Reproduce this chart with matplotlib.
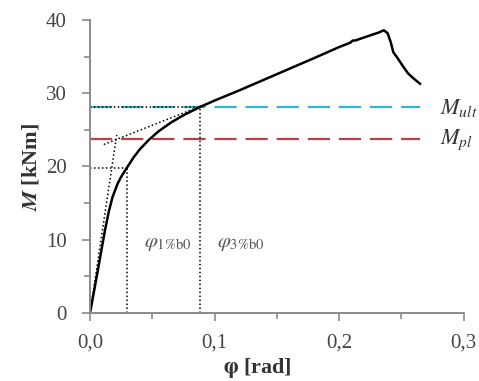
import matplotlib
matplotlib.use("Agg")
import matplotlib.pyplot as plt
from matplotlib.ticker import MultipleLocator, FuncFormatter

plt.rcParams['font.family'] = ['Liberation Serif', 'DejaVu Serif']
plt.rcParams['mathtext.fontset'] = 'stix'

# Moment-rotation curve
phi = [0, 0.006, 0.012, 0.015, 0.018, 0.022, 0.025, 0.0295, 0.035, 0.04,
       0.047, 0.055, 0.065, 0.075, 0.088, 0.1, 0.12, 0.15, 0.18, 0.2, 0.209,
       0.211, 0.213, 0.225, 0.232, 0.236, 0.239, 0.2415, 0.2436, 0.247,
       0.2517, 0.2555, 0.26, 0.265]
M = [0, 5.6, 11.3, 13.8, 15.8, 17.6, 18.6, 19.8, 21.25, 22.35,
     23.6, 24.8, 26.0, 27.0, 28.1, 29.0, 30.4, 32.6, 34.8, 36.3, 36.9,
     37.2, 37.2, 37.9, 38.3, 38.6, 38.2, 37.0, 35.6, 34.8,
     33.6, 32.7, 32.0, 31.3]

M_ult = 28.1
M_pl = 23.7
phi_1 = 0.0295
M_1 = 19.8
phi_3 = 0.0884
ref_end = 0.265

# auxiliary stiffness lines
init_x = [0, 0.0214]
init_y = [0, 24.3]
hard_x = [0.011, 0.0897]
hard_y = [23.0, 28.3]

fig = plt.figure(figsize=(4.79, 3.81), dpi=100)
ax = fig.add_axes([0.188, 0.1785, 0.7797, 0.769])

ax.plot([0, ref_end], [M_ult, M_ult], color='#2db7c9', lw=1.6, dashes=(10, 4))
ax.plot([0, ref_end], [M_pl, M_pl], color='#b9404b', lw=1.6, dashes=(10, 4))

dot = dict(color='black', lw=1.1, ls=(0, (1, 1.6)))
ax.plot([phi_1, phi_1], [0, M_1], **dot)
ax.plot([0, phi_1], [M_1, M_1], **dot)
ax.plot([phi_3, phi_3], [0, M_ult], **dot)
ax.plot([0, phi_3], [M_ult, M_ult], **dot)
ax.plot(init_x, init_y, **dot)
ax.plot(hard_x, hard_y, **dot)

ax.plot(phi, M, color='black', lw=1.8)

ax.text(0.043, 9.5, r'$\varphi_{\mathrm{1\%b0}}$', fontsize=15, color='#555555', va='center')
ax.text(0.102, 9.5, r'$\varphi_{\mathrm{3\%b0}}$', fontsize=15, color='#555555', va='center')
ax.text(0.281, 28.0, r'$M_{ult}$', fontsize=16, color='#333333', va='center')
ax.text(0.281, 23.7, r'$M_{pl}$', fontsize=16, color='#333333', va='center')

ax.set_xlim(0, 0.3)
ax.set_ylim(0, 40)
ax.xaxis.set_major_locator(MultipleLocator(0.1))
ax.xaxis.set_minor_locator(MultipleLocator(0.05))
ax.yaxis.set_major_locator(MultipleLocator(10))
ax.yaxis.set_minor_locator(MultipleLocator(5))
ax.xaxis.set_major_formatter(FuncFormatter(lambda v, p: f'{v:.1f}'.replace('.', ',')))
ax.yaxis.set_major_formatter(FuncFormatter(lambda v, p: f'{v:.0f}'))

for s in ['top', 'right']:
    ax.spines[s].set_visible(False)
for s in ['left', 'bottom']:
    ax.spines[s].set_color('#8a8a8a')
    ax.spines[s].set_linewidth(1.4)
ax.tick_params(which='both', colors='#8a8a8a', labelcolor='#444444', labelsize=15, direction='out')
ax.tick_params(which='major', length=6, width=1.2)
ax.tick_params(which='minor', length=4, width=1.2)
ax.tick_params(axis='x', which='major', pad=9)
ax.tick_params(axis='y', which='major', pad=11)

ax.set_xlabel(r'$\boldsymbol{\varphi}$ [rad]', fontsize=16, fontweight='bold', color='#333333')
ax.set_ylabel(r'$\boldsymbol{M}$ [kNm]', fontsize=16, fontweight='bold', color='#333333')
ax.xaxis.set_label_coords(0.447, -0.148)
ax.yaxis.set_label_coords(-0.13, 0.5)

fig.savefig('out.png', dpi=100)
